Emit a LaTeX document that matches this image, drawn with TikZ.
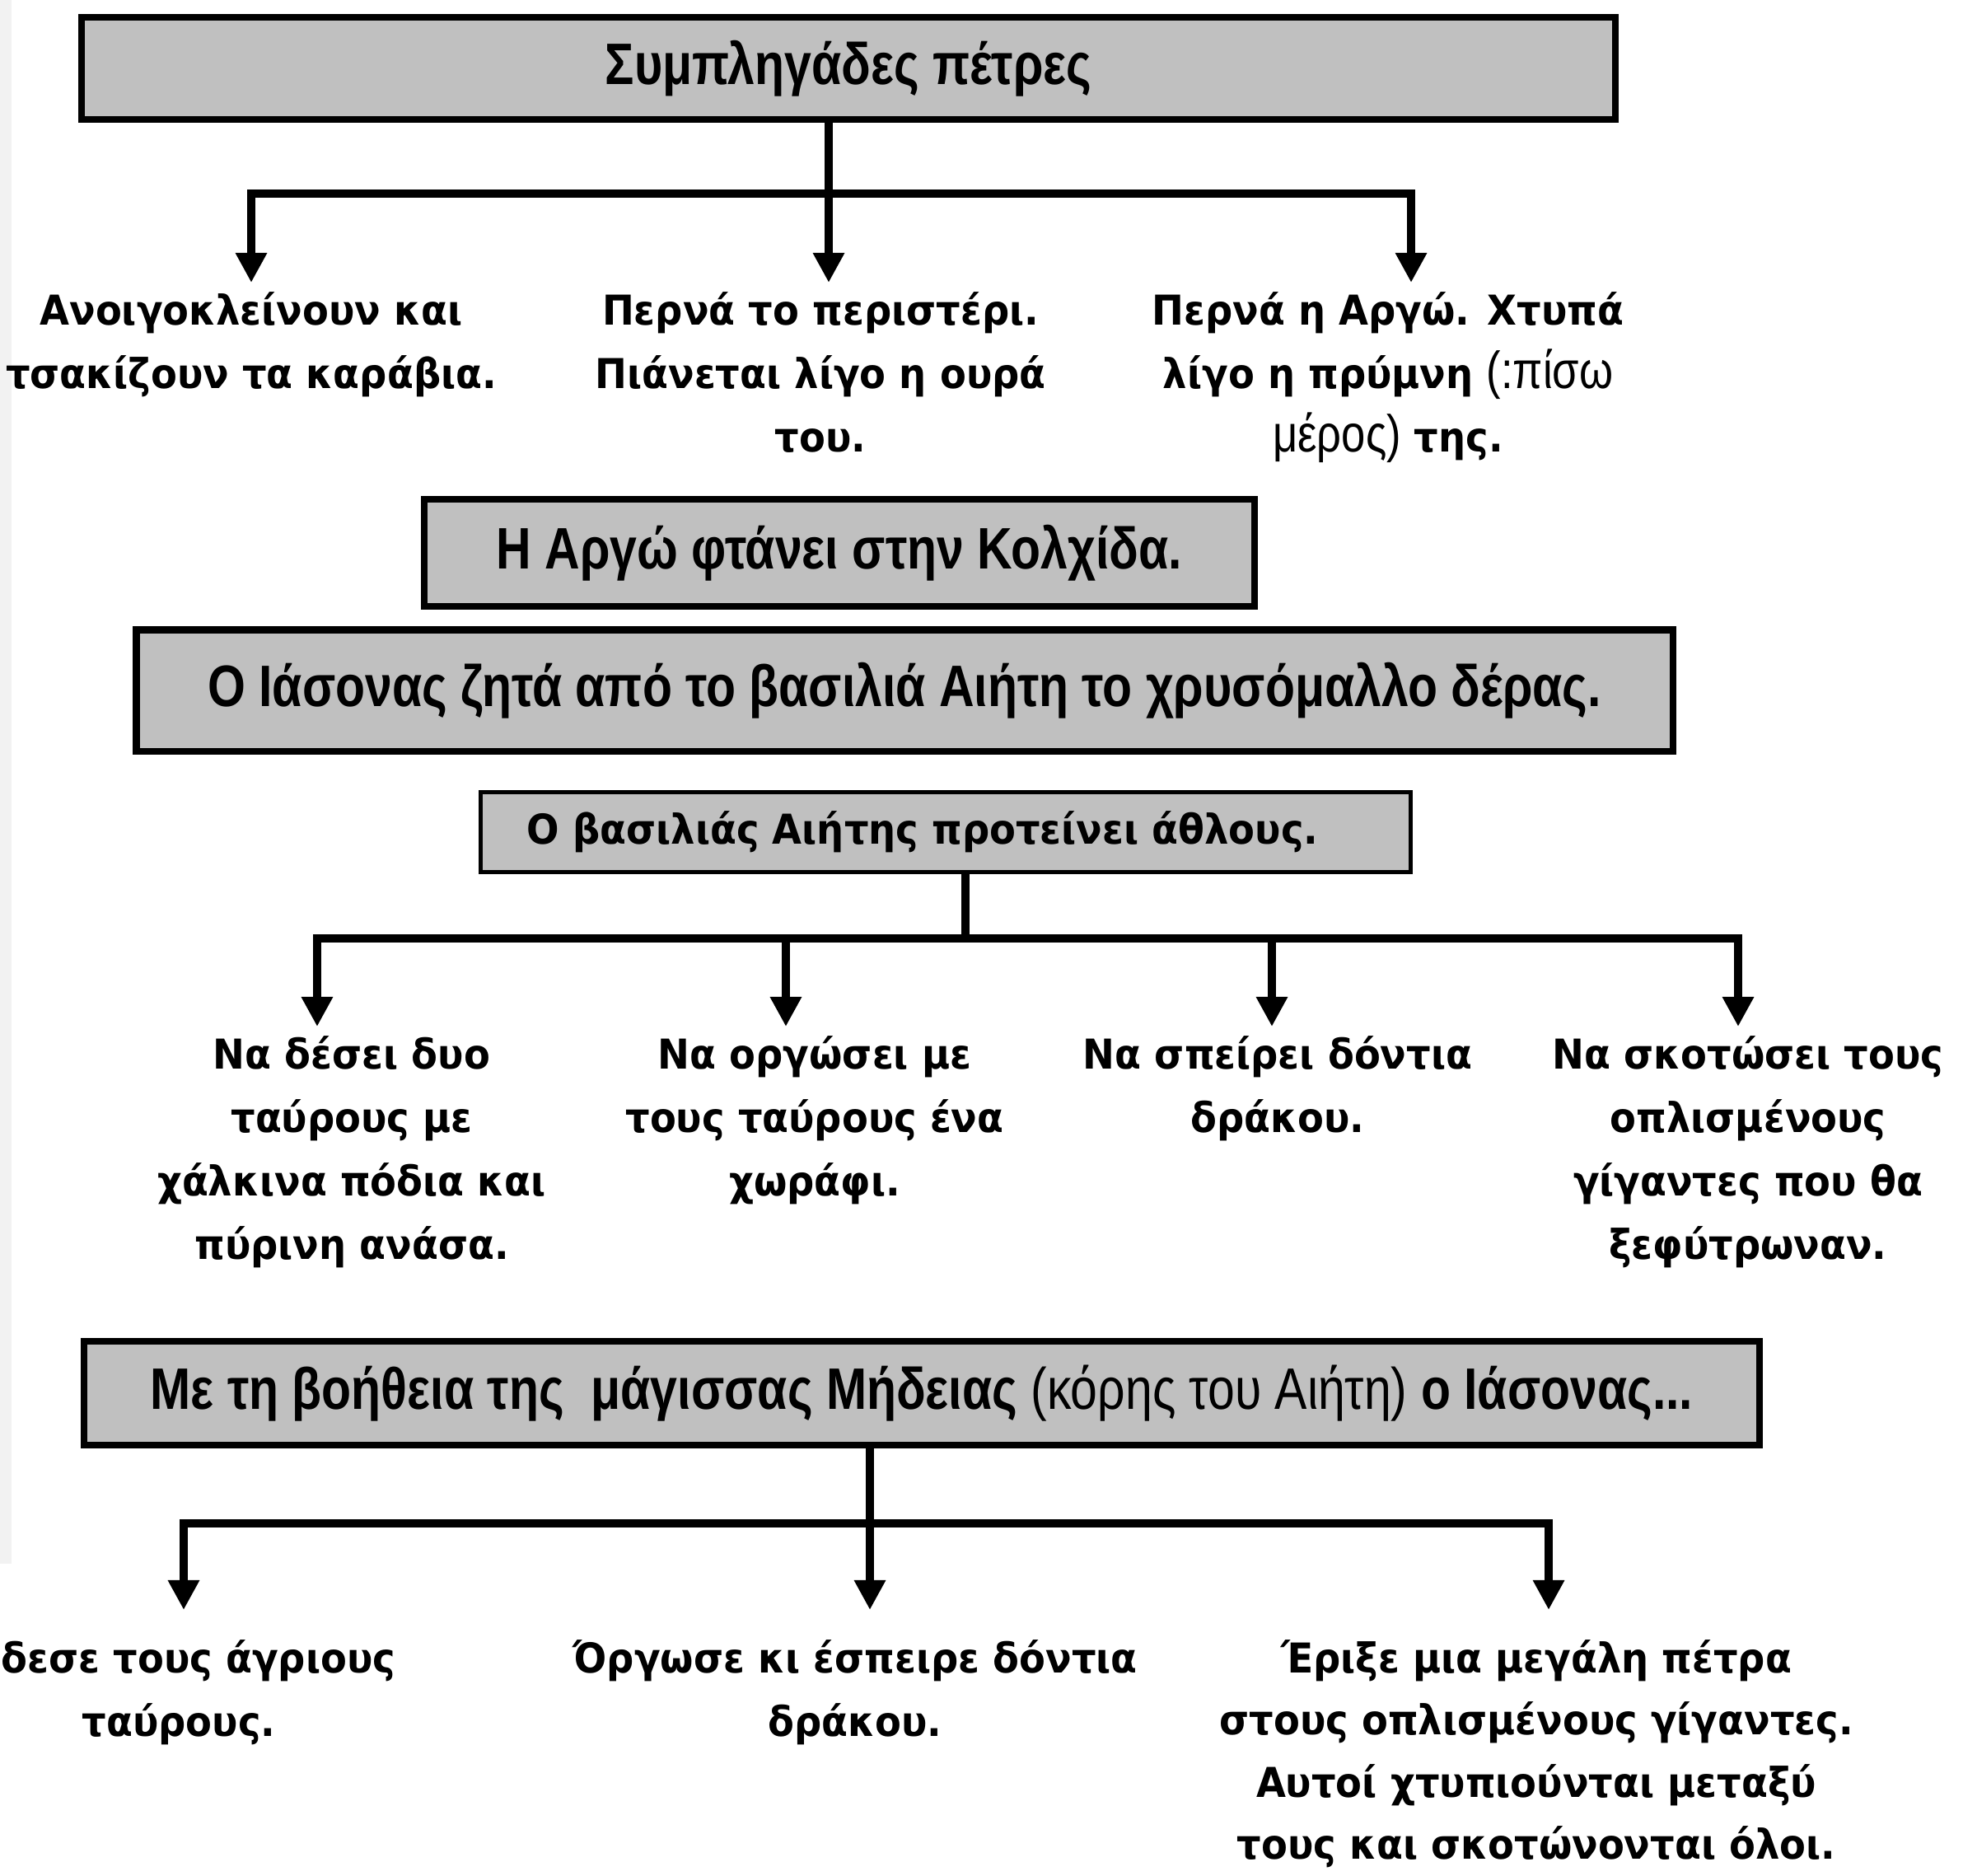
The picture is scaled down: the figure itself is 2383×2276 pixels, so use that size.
\documentclass[tikz,border=0pt]{standalone}
\usepackage{fontspec}
\setmainfont{DejaVu Sans}[FakeStretch=0.93]
\newfontfamily\narrowfont{Liberation Sans}[FakeStretch=0.83]
\usetikzlibrary{arrows.meta}
\definecolor{boxgray}{RGB}{192,192,192}
\definecolor{edgegray}{RGB}{242,242,242}
\newcommand{\titlefont}{\narrowfont\bfseries\fontsize{20.2}{24}\selectfont}
\newcommand{\descfont}{\bfseries\fontsize{14.2}{21.9}\selectfont}
\newcommand{\lighttext}[1]{{\mdseries #1}}
\newcommand{\lightnote}[1]{{\narrowfont\mdseries\fontsize{18}{21.9}\selectfont #1}}

\begin{document}
\begin{tikzpicture}[
    x=0.01cm, y=-0.01cm,
    titlebox/.style={draw, line width=2.3pt, fill=boxgray, inner sep=0pt, font=\titlefont},
    smallbox/.style={draw, line width=1.4pt, fill=boxgray, inner sep=0pt, font=\descfont},
    desc/.style={align=center, anchor=north, inner sep=0pt, font=\descfont},
    conn/.style={line width=2.8pt},
    arr/.style={conn, shorten >=0.11cm, -{Triangle[length=0.36cm, width=0.36cm]}},
]
\useasboundingbox (0, 0) rectangle (2383, 2276);
\fill[edgegray] (0, 0) rectangle (14, 1898);

\node[titlebox, minimum width=18.61cm, minimum height=1.24cm] (sympl) at (1030, 83) {Συμπληγάδες πέτρες};
\node[desc] (a1) at (305, 354) {Ανοιγοκλείνουν και\\τσακίζουν τα καράβια.};
\node[desc] (a2) at (996, 354) {Περνά το περιστέρι.\\Πιάνεται λίγο η ουρά\\του.};
\node[desc] (a3) at (1685, 354) {Περνά η Αργώ. Χτυπά\\λίγο η πρύμνη \lightnote{(:πίσω}\\\lightnote{μέρος)} της.};
\node[titlebox, minimum width=10.08cm, minimum height=1.30cm] (argo) at (1019, 671) {Η Αργώ φτάνει στην Κολχίδα.};
\node[titlebox, minimum width=18.64cm, minimum height=1.47cm] (iason) at (1098, 838) {Ο Ιάσονας ζητά από το βασιλιά Αιήτη το χρυσόμαλλο δέρας.};
\node[smallbox, minimum width=11.29cm, minimum height=0.97cm] (king) at (1148, 1010) {Ο βασιλιάς Αιήτης προτείνει άθλους.\hspace*{0.56cm}};
\node[desc] (b1) at (427, 1257) {Να δέσει δυο\\ταύρους με\\χάλκινα πόδια και\\πύρινη ανάσα.};
\node[desc] (b2) at (989, 1257) {Να οργώσει με\\τους ταύρους ένα\\χωράφι.};
\node[desc] (b3) at (1551, 1257) {Να σπείρει δόντια\\δράκου.};
\node[desc] (b4) at (2122, 1257) {Να σκοτώσει τους\\οπλισμένους\\γίγαντες που θα\\ξεφύτρωναν.};
\node[titlebox, minimum width=20.33cm, minimum height=1.26cm] (medea) at (1119, 1691) {Με τη βοήθεια της\ \ μάγισσας Μήδειας \lighttext{(κόρης του Αιήτη)} ο Ιάσονας...};
\node[desc] (c1) at (241, 1990) {δεσε τους άγριους\\ταύρους.\hspace*{0.48cm}};
\node[desc] (c2) at (1038, 1990) {Όργωσε κι έσπειρε δόντια\\δράκου.};
\node[desc, font={\bfseries\fontsize{14.2}{21.4}\selectfont}] (c3) at (1865, 1990) {Έριξε μια μεγάλη πέτρα\\στους οπλισμένους γίγαντες.\\Αυτοί χτυπιούνται μεταξύ\\τους και σκοτώνονται όλοι.};

\coordinate (j1) at (1006, 235);
\coordinate (j2) at (1172, 1139);
\coordinate (j3) at (1056, 1849);

\draw[arr] (sympl.south -| j1) -- (a2.north -| j1);
\draw[arr] (j1) -| (a1.north);
\draw[arr] (j1) -| ([xshift=0.28cm]a3.north);

\draw[conn] (king.south -| j2) -- (j2);
\draw[arr] (j2) -| ([xshift=-0.42cm]b1.north);
\draw[arr] (j2) -| ([xshift=-0.35cm]b2.north);
\draw[arr] (j2) -| ([xshift=-0.07cm]b3.north);
\draw[arr] (j2) -| ([xshift=-0.12cm]b4.north);

\draw[arr, shorten >=0.36cm] (medea.south -| j3) -- (c2.north -| j3);
\draw[arr, shorten >=0.36cm] (j3) -| ([xshift=-0.18cm]c1.north);
\draw[arr, shorten >=0.36cm] (j3) -| ([xshift=0.15cm]c3.north);
\end{tikzpicture}
\end{document}
